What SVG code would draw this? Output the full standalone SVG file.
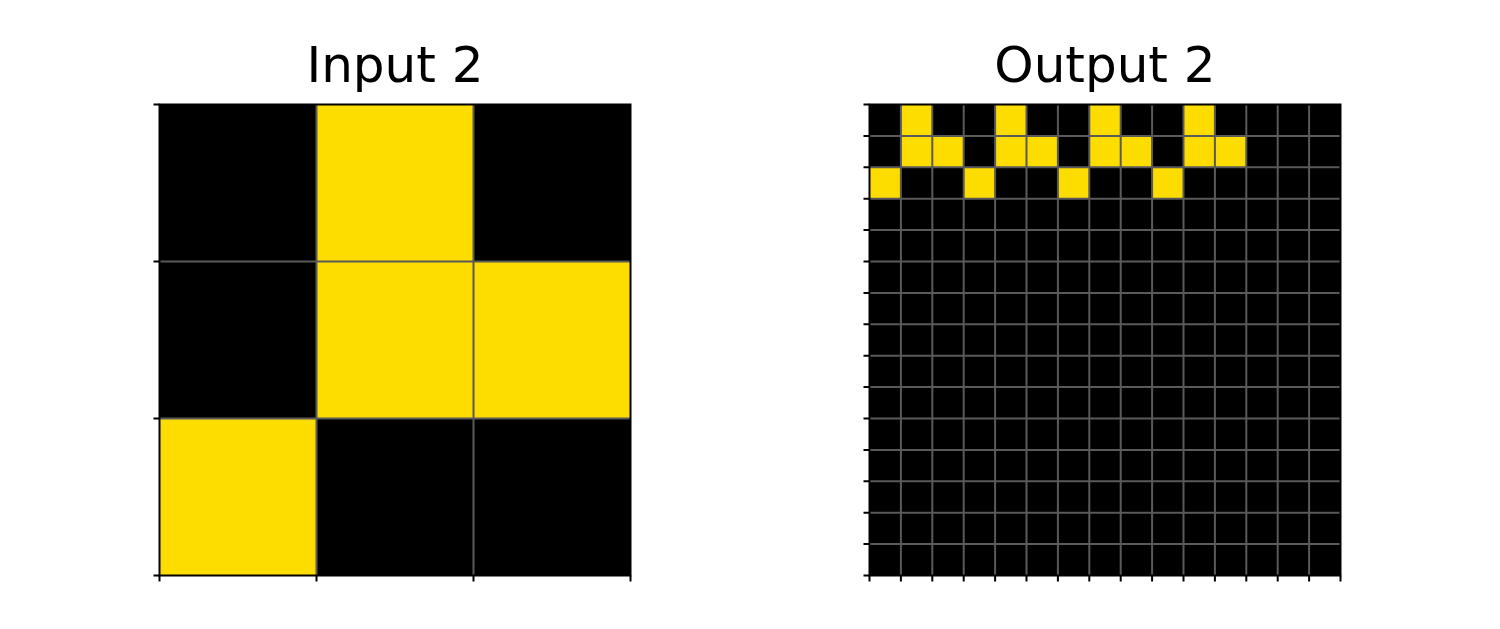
<svg xmlns="http://www.w3.org/2000/svg" width="1500" height="629" viewBox="0 0 1500 629">
<style>
.title{font-family:"DejaVu Sans",sans-serif;font-size:50px;fill:#000;text-anchor:middle}
.bg{fill:#000}
.y{fill:#FDDC00}
.grid{stroke:#5a5a5a;stroke-width:2;fill:none}
.spine{stroke:#000;stroke-width:2;fill:none}
.tick{stroke:#000;stroke-width:2;fill:none}
</style>
<rect width="1500" height="629" fill="#fff"/>
<g id="input">
<text class="title" x="395" y="81.5">Input 2</text>
<rect class="bg" x="159.5" y="104.5" width="471" height="471"/>
<g transform="translate(159.5 104.5) scale(157)">
<rect class="y" x="1" y="0" width="1" height="1"/>
<rect class="y" x="1" y="1" width="1" height="1"/>
<rect class="y" x="2" y="1" width="1" height="1"/>
<rect class="y" x="0" y="2" width="1" height="1"/>
<path class="grid" vector-effect="non-scaling-stroke" d="M1 0V3M2 0V3M0 1H3M0 2H3"/>
</g>
<rect class="spine" x="159.5" y="104.5" width="471" height="471"/>
<path class="tick" d="M153.5 104.5H159.5M153.5 261.5H159.5M153.5 418.5H159.5M153.5 575.5H159.5M159.5 575.5V581.5M316.5 575.5V581.5M473.5 575.5V581.5M630.5 575.5V581.5"/>
</g>
<g id="output">
<text class="title" x="1105" y="81.5">Output 2</text>
<rect class="bg" x="869.5" y="104.5" width="471" height="471"/>
<g transform="translate(869.5 104.5) scale(31.4)">
<rect class="y" x="1" y="0" width="1" height="1"/>
<rect class="y" x="4" y="0" width="1" height="1"/>
<rect class="y" x="7" y="0" width="1" height="1"/>
<rect class="y" x="10" y="0" width="1" height="1"/>
<rect class="y" x="1" y="1" width="2" height="1"/>
<rect class="y" x="4" y="1" width="2" height="1"/>
<rect class="y" x="7" y="1" width="2" height="1"/>
<rect class="y" x="10" y="1" width="2" height="1"/>
<rect class="y" x="0" y="2" width="1" height="1"/>
<rect class="y" x="3" y="2" width="1" height="1"/>
<rect class="y" x="6" y="2" width="1" height="1"/>
<rect class="y" x="9" y="2" width="1" height="1"/>
<path class="grid" vector-effect="non-scaling-stroke" d="M1 0V15M2 0V15M3 0V15M4 0V15M5 0V15M6 0V15M7 0V15M8 0V15M9 0V15M10 0V15M11 0V15M12 0V15M13 0V15M14 0V15M0 1H15M0 2H15M0 3H15M0 4H15M0 5H15M0 6H15M0 7H15M0 8H15M0 9H15M0 10H15M0 11H15M0 12H15M0 13H15M0 14H15"/>
</g>
<rect class="spine" x="869.5" y="104.5" width="471" height="471"/>
<path class="tick" d="M863.5 104.5H869.5M863.5 135.9H869.5M863.5 167.3H869.5M863.5 198.7H869.5M863.5 230.1H869.5M863.5 261.5H869.5M863.5 292.9H869.5M863.5 324.3H869.5M863.5 355.7H869.5M863.5 387.1H869.5M863.5 418.5H869.5M863.5 449.9H869.5M863.5 481.3H869.5M863.5 512.7H869.5M863.5 544.1H869.5M863.5 575.5H869.5M869.5 575.5V581.5M900.9 575.5V581.5M932.3 575.5V581.5M963.7 575.5V581.5M995.1 575.5V581.5M1026.5 575.5V581.5M1057.9 575.5V581.5M1089.3 575.5V581.5M1120.7 575.5V581.5M1152.1 575.5V581.5M1183.5 575.5V581.5M1214.9 575.5V581.5M1246.3 575.5V581.5M1277.7 575.5V581.5M1309.1 575.5V581.5M1340.5 575.5V581.5"/>
</g>
</svg>
